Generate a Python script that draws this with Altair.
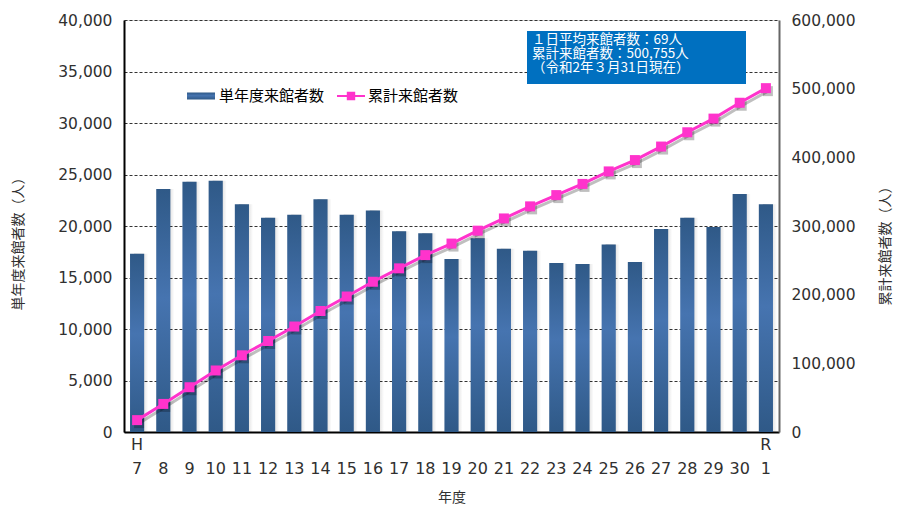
import altair as alt
import pandas as pd

# ---------------- data ----------------
years = ["H7", "8", "9", "10", "11", "12", "13", "14", "15", "16", "17", "18", "19",
         "20", "21", "22", "23", "24", "25", "26", "27", "28", "29", "30", "R1"]
single_year = [17300, 23600, 24300, 24400, 22100, 20800, 21100, 22600, 21100, 21500,
               19500, 19300, 16800, 18800, 17800, 17600, 16400, 16300, 18200, 16500,
               19700, 20800, 19900, 23100, 22100]
cumulative = [17300, 40900, 65200, 89600, 111700, 132500, 153600, 176200, 197300, 218800,
              238300, 257600, 274400, 293200, 311000, 328600, 345000, 361300, 379500, 396000,
              415700, 436500, 456400, 479500, 500755]
series_names = ["単年度来館者数", "累計来館者数"]
left_ticks = [0, 5000, 10000, 15000, 20000, 25000, 30000, 35000, 40000]
right_ticks = [0, 100000, 200000, 300000, 400000, 500000, 600000]
annotation_lines = ["１日平均来館者数：69人", "累計来館者数：500,755人", "（令和2年３月31日現在）"]

df = pd.DataFrame({"year": years, "single": single_year, "cum": cumulative,
                   "s1": series_names[0], "s2": series_names[1]})
note_df = pd.DataFrame({"text": ["\n".join(annotation_lines)]})

NUM_FONT = "DejaVu Sans"
JP_FONT = "Noto Sans CJK JP"
TXT = "#303030"
BLUE_D = "#2f5987"
BLUE_L = "#4674b0"
PINK = "#FF33CC"

x_enc = alt.X(
    "year:N", sort=years,
    scale=alt.Scale(paddingInner=0.46, paddingOuter=0.23),
    axis=alt.Axis(
        title="年度", titleFont=JP_FONT, titleFontSize=14, titleFontWeight="normal",
        titleColor=TXT, titleY=65, titleBaseline="middle",
        labelExpr="datum.value == 'H7' ? ['H','7'] : (datum.value == 'R1' ? ['R','1'] : [' ', datum.value])",
        labelAngle=0, labelFont=NUM_FONT, labelFontSize=16, labelLineHeight=24,
        labelColor=TXT, labelPadding=4, ticks=False, domainColor="#000", domainWidth=2,
        grid=False,
    ),
)

y_single = alt.Y(
    "single:Q",
    scale=alt.Scale(domain=[0, 40000], nice=False),
    axis=alt.Axis(
        values=left_ticks, format=",.0f", title="単年度来館者数（人）",
        titleFont=JP_FONT, titleFontSize=14, titleFontWeight="normal", titleColor=TXT,
        titleX=-106, titleY=220, titleBaseline="middle", titleAlign="center",
        labelFont=NUM_FONT, labelFontSize=15.5, labelColor=TXT, labelPadding=12,
        ticks=False, domainColor="#000", domainWidth=2,
        grid=True, gridColor="#333", gridDash=[3, 2], gridWidth=1,
    ),
)

y_cum = alt.Y(
    "cum:Q",
    scale=alt.Scale(domain=[0, 600000], nice=False),
    axis=alt.Axis(
        orient="right", values=right_ticks, format=",.0f", title="累計来館者数（人）",
        titleFont=JP_FONT, titleFontSize=14, titleFontWeight="normal", titleColor=TXT,
        titleAngle=270, titleX=106, titleY=222, titleBaseline="middle", titleAlign="center",
        labelFont=NUM_FONT, labelFontSize=15.5, labelColor=TXT, labelPadding=12,
        ticks=False, domainColor="#666", domainWidth=2, grid=False,
    ),
)

bar_gradient = alt.Gradient(
    gradient="linear", x1=0, x2=0, y1=0, y2=1,
    stops=[alt.GradientStop(color=BLUE_D, offset=0),
           alt.GradientStop(color=BLUE_L, offset=0.45),
           alt.GradientStop(color=BLUE_D, offset=1)],
)
shadow_gradient = alt.Gradient(
    gradient="linear", x1=0, x2=1, y1=0, y2=0,
    stops=[alt.GradientStop(color="rgba(0,0,0,0.35)", offset=0),
           alt.GradientStop(color="rgba(0,0,0,0)", offset=1)],
)

base = alt.Chart(df)

bar_shadow = base.mark_bar(xOffset=4, color=shadow_gradient).encode(x=x_enc, y=y_single)
bars = base.mark_bar(color=bar_gradient).encode(
    x=x_enc, y=y_single,
    opacity=alt.Opacity(
        "s1:N", scale=alt.Scale(range=[1]),
        legend=alt.Legend(
            orient="none", legendX=63, legendY=62, title=None,
            symbolType="M-1,-0.25H1V0.25H-1Z", symbolSize=784,
            symbolFillColor=BLUE_L, symbolStrokeWidth=0, symbolOpacity=1,
            labelFont=JP_FONT, labelFontSize=15, labelColor="#000", labelOffset=4,
        ),
    ),
)
bar_layer = alt.layer(bar_shadow, bars)

line_shadow = base.mark_line(color="#000", opacity=0.25, strokeWidth=3, xOffset=2, yOffset=3).encode(x=x_enc, y=y_cum)
pts_shadow = base.mark_square(color="#000", opacity=0.25, size=100, xOffset=2, yOffset=3).encode(x=x_enc, y=y_cum)
line = base.mark_line(color=PINK, strokeWidth=3).encode(x=x_enc, y=y_cum)
pts = base.mark_square(color=PINK, size=100, filled=True).encode(
    x=x_enc, y=y_cum,
    opacity=alt.Opacity(
        "s2:N", scale=alt.Scale(range=[1]),
        legend=alt.Legend(
            orient="none", legendX=213, legendY=62, title=None,
            symbolType="M-1,-0.07H1V0.07H-1Z M-0.3,-0.3H0.3V0.3H-0.3Z", symbolSize=784,
            symbolFillColor=PINK, symbolStrokeWidth=0, symbolOpacity=1,
            labelFont=JP_FONT, labelFontSize=15, labelColor="#000", labelOffset=3,
        ),
    ),
)
line_layer = alt.layer(line_shadow, pts_shadow, line, pts)

note_box = alt.Chart(note_df).mark_rect(color="#0070C0").encode(
    x=alt.value(403), x2=alt.value(622), y=alt.value(11), y2=alt.value(64)
)
note_text = alt.Chart(note_df).mark_text(
    align="left", baseline="middle", lineBreak="\n", lineHeight=14,
    font=JP_FONT, fontSize=13.5, color="white",
).encode(x=alt.value(408), y=alt.value(20), text="text:N")

chart = alt.layer(bar_layer, line_layer, note_box, note_text).resolve_scale(
    y="independent", opacity="independent"
).properties(
    width=655, height=412,
    autosize=alt.AutoSizeParams(type="none"),
    padding={"left": 116, "top": 12, "right": 116, "bottom": 75},
).configure_view(stroke=None).configure(background="white")

chart.save("out.html", embed_options={"renderer": "svg", "actions": False})
